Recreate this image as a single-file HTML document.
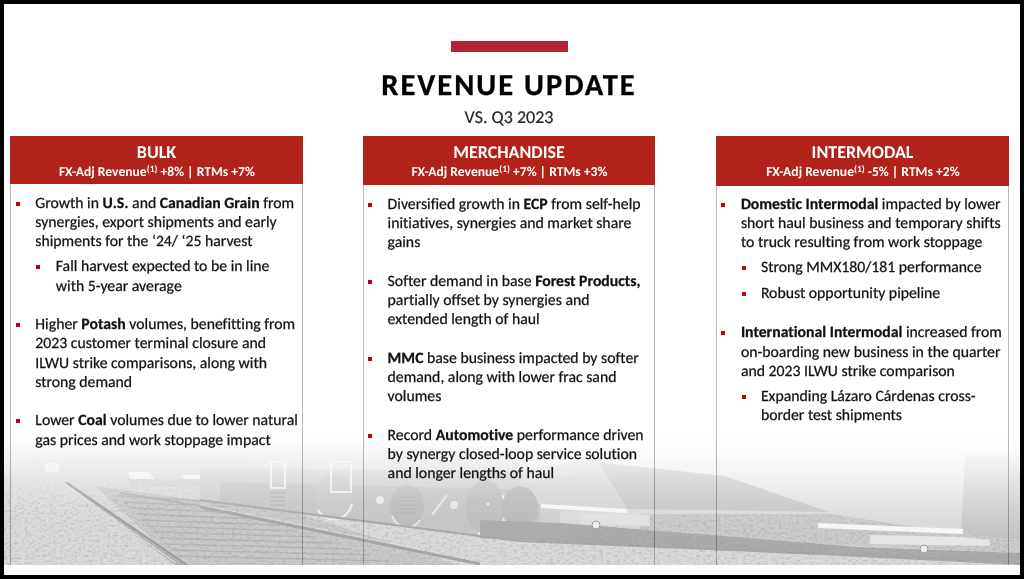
<!DOCTYPE html>
<html><head><meta charset="utf-8">
<style>
html,body{margin:0;padding:0;}
body{font-variant-ligatures:none;text-rendering:geometricPrecision;width:1024px;height:579px;background:#000;position:relative;overflow:hidden;font-family:"Carlito","Liberation Sans",sans-serif;}
.slide{position:absolute;left:4px;top:4px;width:1016px;height:571px;background:#fff;overflow:hidden;}
.abs{position:absolute;}
#photo{position:absolute;left:4px;top:428px;width:1016px;height:137px;display:block;}
.bar{position:absolute;left:451px;top:41px;width:117px;height:11px;background:#b22434;}
.title{position:absolute;left:0;width:1018px;text-align:center;top:67px;font-size:30.5px;font-weight:bold;letter-spacing:2px;color:#000;-webkit-text-stroke:0.3px #000;line-height:37px;white-space:nowrap;}
.sub{position:absolute;left:0;width:1018px;text-align:center;top:105.5px;font-size:18px;color:#262626;-webkit-text-stroke:0.2px #262626;line-height:22px;white-space:nowrap;}
.col{position:absolute;top:136px;height:429px;border:1px solid rgba(0,0,0,0.27);border-top:none;border-bottom:none;box-sizing:border-box;}
.hd{position:absolute;left:-1px;right:-1px;top:0;height:48px;background:#b0221a;color:#fff;text-align:center;font-weight:bold;white-space:nowrap;}
.hd .t{position:absolute;left:0;right:0;top:5.3px;font-size:18px;line-height:22px;}
.hd .s{position:absolute;left:0.8px;right:0;top:27.8px;font-size:13.6px;line-height:16px;}
.hd sup{font-size:9.5px;vertical-align:0;position:relative;top:-3.8px;}
.p{position:absolute;font-size:15.75px;line-height:19.2px;color:#111;-webkit-text-stroke:0.25px #111;white-space:nowrap;}
.p b{font-weight:bold;color:#111;}
.bl{position:absolute;width:4px;height:4px;background:#bc0016;}
</style></head><body>
<div class="slide"></div>
<svg id="photo" width="1016" height="137" viewBox="4 428 1016 137">
<defs>
<linearGradient id="fade" x1="0" y1="428" x2="0" y2="565" gradientUnits="userSpaceOnUse">
<stop offset="0" stop-color="#fff" stop-opacity="1"/>
<stop offset="0.1" stop-color="#fff" stop-opacity="0.95"/>
<stop offset="0.25" stop-color="#fff" stop-opacity="0.6"/>
<stop offset="0.4" stop-color="#fff" stop-opacity="0.3"/>
<stop offset="0.55" stop-color="#fff" stop-opacity="0.12"/>
<stop offset="0.7" stop-color="#fff" stop-opacity="0.03"/>
<stop offset="1" stop-color="#fff" stop-opacity="0"/>
</linearGradient>
<linearGradient id="hop" x1="0" y1="440" x2="0" y2="530" gradientUnits="userSpaceOnUse">
<stop offset="0" stop-color="#f8f8f8"/>
<stop offset="1" stop-color="#d6d6d6"/>
</linearGradient>
<linearGradient id="rside" x1="0" y1="445" x2="0" y2="540" gradientUnits="userSpaceOnUse">
<stop offset="0" stop-color="#e4e4e4"/>
<stop offset="1" stop-color="#c2c2c2"/>
</linearGradient>
<filter id="grain" x="0" y="0" width="100%" height="100%">
<feTurbulence type="fractalNoise" baseFrequency="0.28 0.4" numOctaves="3" seed="11"/>
<feColorMatrix type="matrix" values="0 0 0 0 0.3  0 0 0 0 0.3  0 0 0 0 0.3  -2.6 0 0 0 1.45"/>
</filter>
<filter id="soft" x="-2%" y="-10%" width="104%" height="120%"><feGaussianBlur stdDeviation="0.75"/></filter>
<clipPath id="ground"><polygon points="4,470 200,470 200,500 480,536 520,541 560,538 640,514 830,514 963,534 1020,538 1020,565 4,565"/></clipPath>
<linearGradient id="gm" x1="0" y1="470" x2="0" y2="505" gradientUnits="userSpaceOnUse"><stop offset="0" stop-color="#fff" stop-opacity="0"/><stop offset="1" stop-color="#fff" stop-opacity="1"/></linearGradient>
<mask id="gmask" maskUnits="userSpaceOnUse" x="4" y="428" width="1016" height="137"><rect x="4" y="428" width="1016" height="137" fill="url(#gm)"/></mask>
</defs>
<rect x="4" y="428" width="1016" height="137" fill="#dadada"/>
<g filter="url(#soft)">
<!-- far-left background train -->
<polygon points="4,462 250,458 250,490 4,488" fill="#d9d9d9"/>
<rect x="45" y="463" width="14" height="9" fill="#ececec"/>
<polygon points="128,472 150,472 154,479 130,479" fill="#f2f2f2"/>
<polygon points="182,475 204,475 209,483 184,483" fill="#f2f2f2"/>
<rect x="130" y="479" width="80" height="8" fill="#d2d2d2"/>
<!-- ties region -->
<polygon points="95,486 210,502 300,514 460,565 180,565" fill="#c9c9c9"/>
<g stroke="#b6b6b6" stroke-width="1.6">
<path d="M118,496 L205,501"/><path d="M124,502 L225,507"/><path d="M130,508 L245,513"/><path d="M136,514 L262,519"/>
<path d="M142,520 L280,525"/><path d="M148,526 L298,531"/><path d="M153,532 L316,537"/><path d="M159,538 L334,543"/>
<path d="M164,544 L352,549"/><path d="M170,550 L370,555"/><path d="M175,556 L388,561"/>
</g>
<!-- bogie band -->
<polygon points="200,468 560,472 560,538 520,541 480,536 200,500" fill="#cecece"/>
<polygon points="220,482 540,490 540,538 520,541 480,536 220,503" fill="#c4c4c4"/>
<!-- wheels -->
<ellipse cx="334" cy="496" rx="19" ry="22" fill="#c6c6c6"/>
<path d="M318,510 A19,22 0 0 0 352,504" stroke="#ececec" stroke-width="2.2" fill="none"/>
<ellipse cx="407" cy="506" rx="17" ry="21" fill="#bababa"/>
<path d="M392,516 A17,21 0 0 0 420,520" stroke="#e6e6e6" stroke-width="2" fill="none"/>
<ellipse cx="485" cy="507" rx="19" ry="27" fill="#bdbdbd"/>
<path d="M478,533 A19,27 0 0 0 503,495" stroke="#eeeeee" stroke-width="2.4" fill="none"/>
<circle cx="488" cy="504" r="1.5" fill="#eee"/>
<rect x="331" y="462" width="20" height="30" fill="none" stroke="#ececec" stroke-width="2"/>
<rect x="271" y="462" width="14" height="26" fill="none" stroke="#ececec" stroke-width="2"/>
<g stroke="#a9a9a9" stroke-width="1"><path d="M270,493h15M270,497h15M270,501h15M270,505h15"/><path d="M400,497h16M400,501h16M400,505h16M400,509h16M400,513h16"/></g>
<circle cx="380" cy="500" r="4" fill="#e6e6e6"/>
<circle cx="454" cy="505" r="4" fill="#e6e6e6"/>
<path d="M432,515 L447,495" stroke="#e8e8e8" stroke-width="2"/>
<!-- hopper body -->
<polygon points="520,428 1020,428 1020,470 965,470 961,526 830,513 770,496 640,488 598,458 520,470" fill="url(#hop)"/>
<polygon points="598,458 627,509 541,506 520,486 520,470" fill="#dadada"/>
<polygon points="506,487 598,470 627,509 560,512" fill="#cfcfcf" opacity="0.6"/>
<polygon points="965,455 1020,455 1020,540 961,534" fill="url(#rside)"/>
<polygon points="598,462 724,476 830,512 627,509" fill="#c7c7c7"/>
<ellipse cx="520" cy="508" rx="18" ry="22" fill="#b7b7b7"/>
<!-- gravel mid right -->
<polygon points="640,514 830,514 963,534 1020,540 1020,553 640,536" fill="#cbcbcb"/>
<!-- dark band bottom right -->
<polygon points="480,520 560,523 860,547 1020,553 1020,565 860,557 560,542 480,538" fill="#aaaaaa"/>
<!-- rails -->
<polygon points="64,482 68,482 189,565 175,565" fill="#b4b4b4"/>
<path d="M67,483 L187,565" stroke="#9a9a9a" stroke-width="1.6" fill="none"/>
<path d="M63,483 L176,563" stroke="#e4e4e4" stroke-width="1.2" fill="none"/>
<path d="M120,493 L200,506" stroke="#b0b0b0" stroke-width="2" fill="none"/>
<path d="M200,507 L480,564" stroke="#a6a6a6" stroke-width="3" fill="none"/><path d="M200,504.5 L480,561.5" stroke="#dedede" stroke-width="1" fill="none"/>
<path d="M200,500 L480,536 L520,541 L1020,562" stroke="#a8a8a8" stroke-width="2.2" fill="none"/>
</g>
<!-- gravel grain -->
<g clip-path="url(#ground)"><g mask="url(#gmask)"><rect x="4" y="470" width="1016" height="95" filter="url(#grain)" opacity="0.36"/></g></g>
<g filter="url(#soft)">
<!-- ledges -->
<polygon points="541,504 627,509 627,513 541,508" fill="#f4f4f4"/>
<polygon points="580,513 650,515 650,526 580,524" fill="#e0e0e0"/>
<polygon points="818,523 963,529 963,534 818,528" fill="#f6f6f6"/>
<polygon points="870,535 960,537 990,540 990,546 870,544" fill="#e6e6e6"/>
<circle cx="596" cy="525" r="4" fill="#f0f0f0" stroke="#999" stroke-width="1"/>
<circle cx="924" cy="549" r="4" fill="#f0f0f0" stroke="#999" stroke-width="1"/>
</g>
<rect x="4" y="428" width="1016" height="137" fill="url(#fade)"/>
</svg>
<div class="bar"></div>
<div class="title">REVENUE UPDATE</div>
<div class="sub">VS. Q3 2023</div>

<!-- BULK -->
<div class="col" style="left:10px;width:293px;">
  <div class="hd" style="height:48px"><div class="t">BULK</div><div class="s">FX-Adj Revenue<sup>(1)</sup> +8% | RTMs +7%</div></div>
</div>
<!-- MERCH -->
<div class="col" style="left:363px;width:292px;">
  <div class="hd" style="height:49px"><div class="t">MERCHANDISE</div><div class="s">FX-Adj Revenue<sup>(1)</sup> +7% | RTMs +3%</div></div>
</div>
<!-- INTERMODAL -->
<div class="col" style="left:716px;width:293px;">
  <div class="hd" style="height:50px"><div class="t">INTERMODAL</div><div class="s">FX-Adj Revenue<sup>(1)</sup> -5% | RTMs +2%</div></div>
</div>

<!-- Bulk text -->
<div class="bl" style="left:16px;top:202px"></div>
<div class="p" style="left:35.3px;top:193.6px">Growth in <b>U.S.</b> and <b>Canadian Grain</b> from<br>synergies, export shipments and early<br>shipments for the ‘24/ ‘25 harvest</div>
<div class="bl" style="left:36px;top:265px"></div>
<div class="p" style="left:55.8px;top:257.3px">Fall harvest expected to be in line<br>with 5-year average</div>
<div class="bl" style="left:16px;top:323px"></div>
<div class="p" style="left:35.3px;top:315.2px">Higher <b>Potash</b> volumes, benefitting from<br>2023 customer terminal closure and<br>ILWU strike comparisons, along with<br>strong demand</div>
<div class="bl" style="left:16px;top:419px"></div>
<div class="p" style="left:35.3px;top:411.4px">Lower <b>Coal</b> volumes due to lower natural<br>gas prices and work stoppage impact</div>

<!-- Merch text -->
<div class="bl" style="left:368px;top:203px"></div>
<div class="p" style="left:387.6px;top:194.5px">Diversified growth in <b>ECP</b> from self-help<br>initiatives, synergies and market share<br>gains</div>
<div class="bl" style="left:368px;top:280px"></div>
<div class="p" style="left:387.6px;top:271.5px">Softer demand in base <b>Forest Products,</b><br>partially offset by synergies and<br>extended length of haul</div>
<div class="bl" style="left:368px;top:357px"></div>
<div class="p" style="left:387.6px;top:348.5px"><b>MMC</b> base business impacted by softer<br>demand, along with lower frac sand<br>volumes</div>
<div class="bl" style="left:368px;top:434px"></div>
<div class="p" style="left:387.6px;top:426px">Record <b>Automotive</b> performance driven<br>by synergy closed-loop service solution<br>and longer lengths of haul</div>

<!-- Intermodal text -->
<div class="bl" style="left:721px;top:203px"></div>
<div class="p" style="left:740.9px;top:194.8px"><b>Domestic Intermodal</b> impacted by lower<br>short haul business and temporary shifts<br>to truck resulting from work stoppage</div>
<div class="bl" style="left:742px;top:266px"></div>
<div class="p" style="left:760.9px;top:257.8px">Strong MMX180/181 performance</div>
<div class="bl" style="left:742px;top:292px"></div>
<div class="p" style="left:760.9px;top:283.8px">Robust opportunity pipeline</div>
<div class="bl" style="left:721px;top:331px"></div>
<div class="p" style="left:740.9px;top:323.3px"><b>International Intermodal</b> increased from<br>on-boarding new business in the quarter<br>and 2023 ILWU strike comparison</div>
<div class="bl" style="left:742px;top:395px"></div>
<div class="p" style="left:760.9px;top:386.9px">Expanding Lázaro Cárdenas cross-<br>border test shipments</div>
<script>
(function(){try{
var t=document.createElement('span');
t.style.cssText='position:absolute;visibility:hidden;white-space:nowrap;font-size:15.75px';
t.textContent='Diversified growth in ECP from self-help';
document.body.appendChild(t);var w=t.getBoundingClientRect().width;t.parentNode.removeChild(t);
var r=252.86/w;if(!(w>0)||Math.abs(r-1)<0.02)return;
var a=document.querySelectorAll('.p');for(var i=0;i<a.length;i++){a[i].style.transform='scaleX('+r+')';a[i].style.transformOrigin='0 0';}
var c=document.querySelectorAll('.title,.sub,.hd .t,.hd .s');for(var j=0;j<c.length;j++){c[j].style.transform='scaleX('+r+')';c[j].style.transformOrigin='50% 0';}
}catch(e){}})();
</script>
</body></html>
